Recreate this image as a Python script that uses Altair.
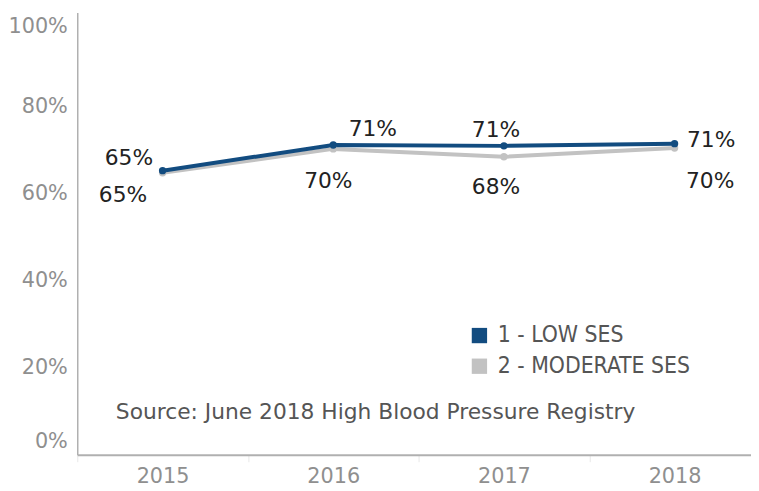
import altair as alt
import pandas as pd

years = ["2015", "2016", "2017", "2018"]
low_ses = [0.652, 0.711, 0.709, 0.714]
moderate_ses = [0.647, 0.702, 0.684, 0.704]
series_names = ["1 - LOW SES", "2 - MODERATE SES"]
colors = ["#124c80", "#c2c2c2"]
y_ticks = [0, 0.2, 0.4, 0.6, 0.8, 1.0]
source_note = "Source: June 2018 High Blood Pressure Registry"

rows = []
for name, vals in zip(series_names, [low_ses, moderate_ses]):
    for yr, v in zip(years, vals):
        rows.append({"Year": yr, "Series": name, "Value": v})
df = pd.DataFrame(rows)

x_enc = alt.X("Year:N", bandPosition=0.5,
              scale=alt.Scale(type="band", domain=years, range=[0, 690], paddingInner=0, paddingOuter=0),
              axis=alt.Axis(title=None, labelAngle=0, labelFont="DejaVu Sans", labelFontSize=21,
                            labelColor="#8f8f8f", labelPadding=4, domainColor="#b0b0b0", domainWidth=2,
                            tickBand="extent", tickColor="#e8e8e8", tickSize=7, tickWidth=1, grid=False))
y_enc = alt.Y("Value:Q",
              scale=alt.Scale(domain=[0, 1.015], nice=False),
              axis=alt.Axis(title=None, values=y_ticks, format=".0%", labelFont="DejaVu Sans",
                            labelFontSize=21, labelColor="#8f8f8f", labelPadding=10, ticks=False,
                            grid=False, domainColor="#b0b0b0", domainWidth=1.5, labelFlush=False,
                            labelBaseline="middle",
                            labelOffset={"condition": [
                                {"test": "datum.value >= 0.99", "value": 8},
                                {"test": "datum.value <= 0.01", "value": -13}],
                                "value": 0}))
color_scale = alt.Scale(domain=series_names, range=colors)
color_enc = alt.Color("Series:N", scale=color_scale,
                      legend=alt.Legend(title=None, orient="none", legendX=395, legendY=315,
                                        symbolType="square", symbolSize=240, symbolStrokeWidth=0,
                                        symbolOpacity=1, labelFont="DejaVu Sans Condensed",
                                        labelFontSize=23, labelColor="#555555", labelOffset=7,
                                        labelLimit=400, rowPadding=7))
color_nolegend = alt.Color("Series:N", scale=color_scale, legend=None)

base = alt.Chart(df)


def series(name):
    return base.transform_filter(alt.datum.Series == name)


lines_mod = series(series_names[1]).mark_line(strokeWidth=4).encode(x=x_enc, y=y_enc, color=color_enc)
lines_low = series(series_names[0]).mark_line(strokeWidth=4).encode(x=x_enc, y=y_enc, color=color_enc)
pts_mod = series(series_names[1]).mark_circle(size=55, opacity=1).encode(x=x_enc, y=y_enc, color=color_nolegend)
pts_low = series(series_names[0]).mark_circle(size=55, opacity=1).encode(x=x_enc, y=y_enc, color=color_nolegend)

offsets = {
    (series_names[0], "2015"): (-34, -13),
    (series_names[0], "2016"): (40, -16),
    (series_names[0], "2017"): (-8, -16),
    (series_names[0], "2018"): (37, -4),
    (series_names[1], "2015"): (-40, 22),
    (series_names[1], "2016"): (-5, 33),
    (series_names[1], "2017"): (-8, 31),
    (series_names[1], "2018"): (36, 33),
}

labels = []
for (s, yr), (dx, dy) in offsets.items():
    labels.append(
        base.transform_filter((alt.datum.Series == s) & (alt.datum.Year == yr))
        .mark_text(font="DejaVu Sans", fontSize=22, color="#222222", dx=dx, dy=dy,
                   align="center", baseline="middle")
        .encode(x=x_enc, y=y_enc, text=alt.Text("Value:Q", format=".0%"))
    )

note = alt.Chart(pd.DataFrame({"t": [source_note]})).mark_text(
    font="DejaVu Sans", fontSize=22, color="#555555", align="left", baseline="middle"
).encode(x=alt.value(39), y=alt.value(404), text="t:N")

chart = alt.layer(lines_mod, lines_low, pts_mod, pts_low, *labels, note).properties(
    width=681, height=447,
    background="white",
    autosize=alt.AutoSizeParams(type="none"),
    padding={"left": 70, "top": 2, "right": 0, "bottom": 30},
).configure_view(strokeWidth=0, stroke=None)

chart.save("out.html", embed_options={"renderer": "svg", "actions": False})
